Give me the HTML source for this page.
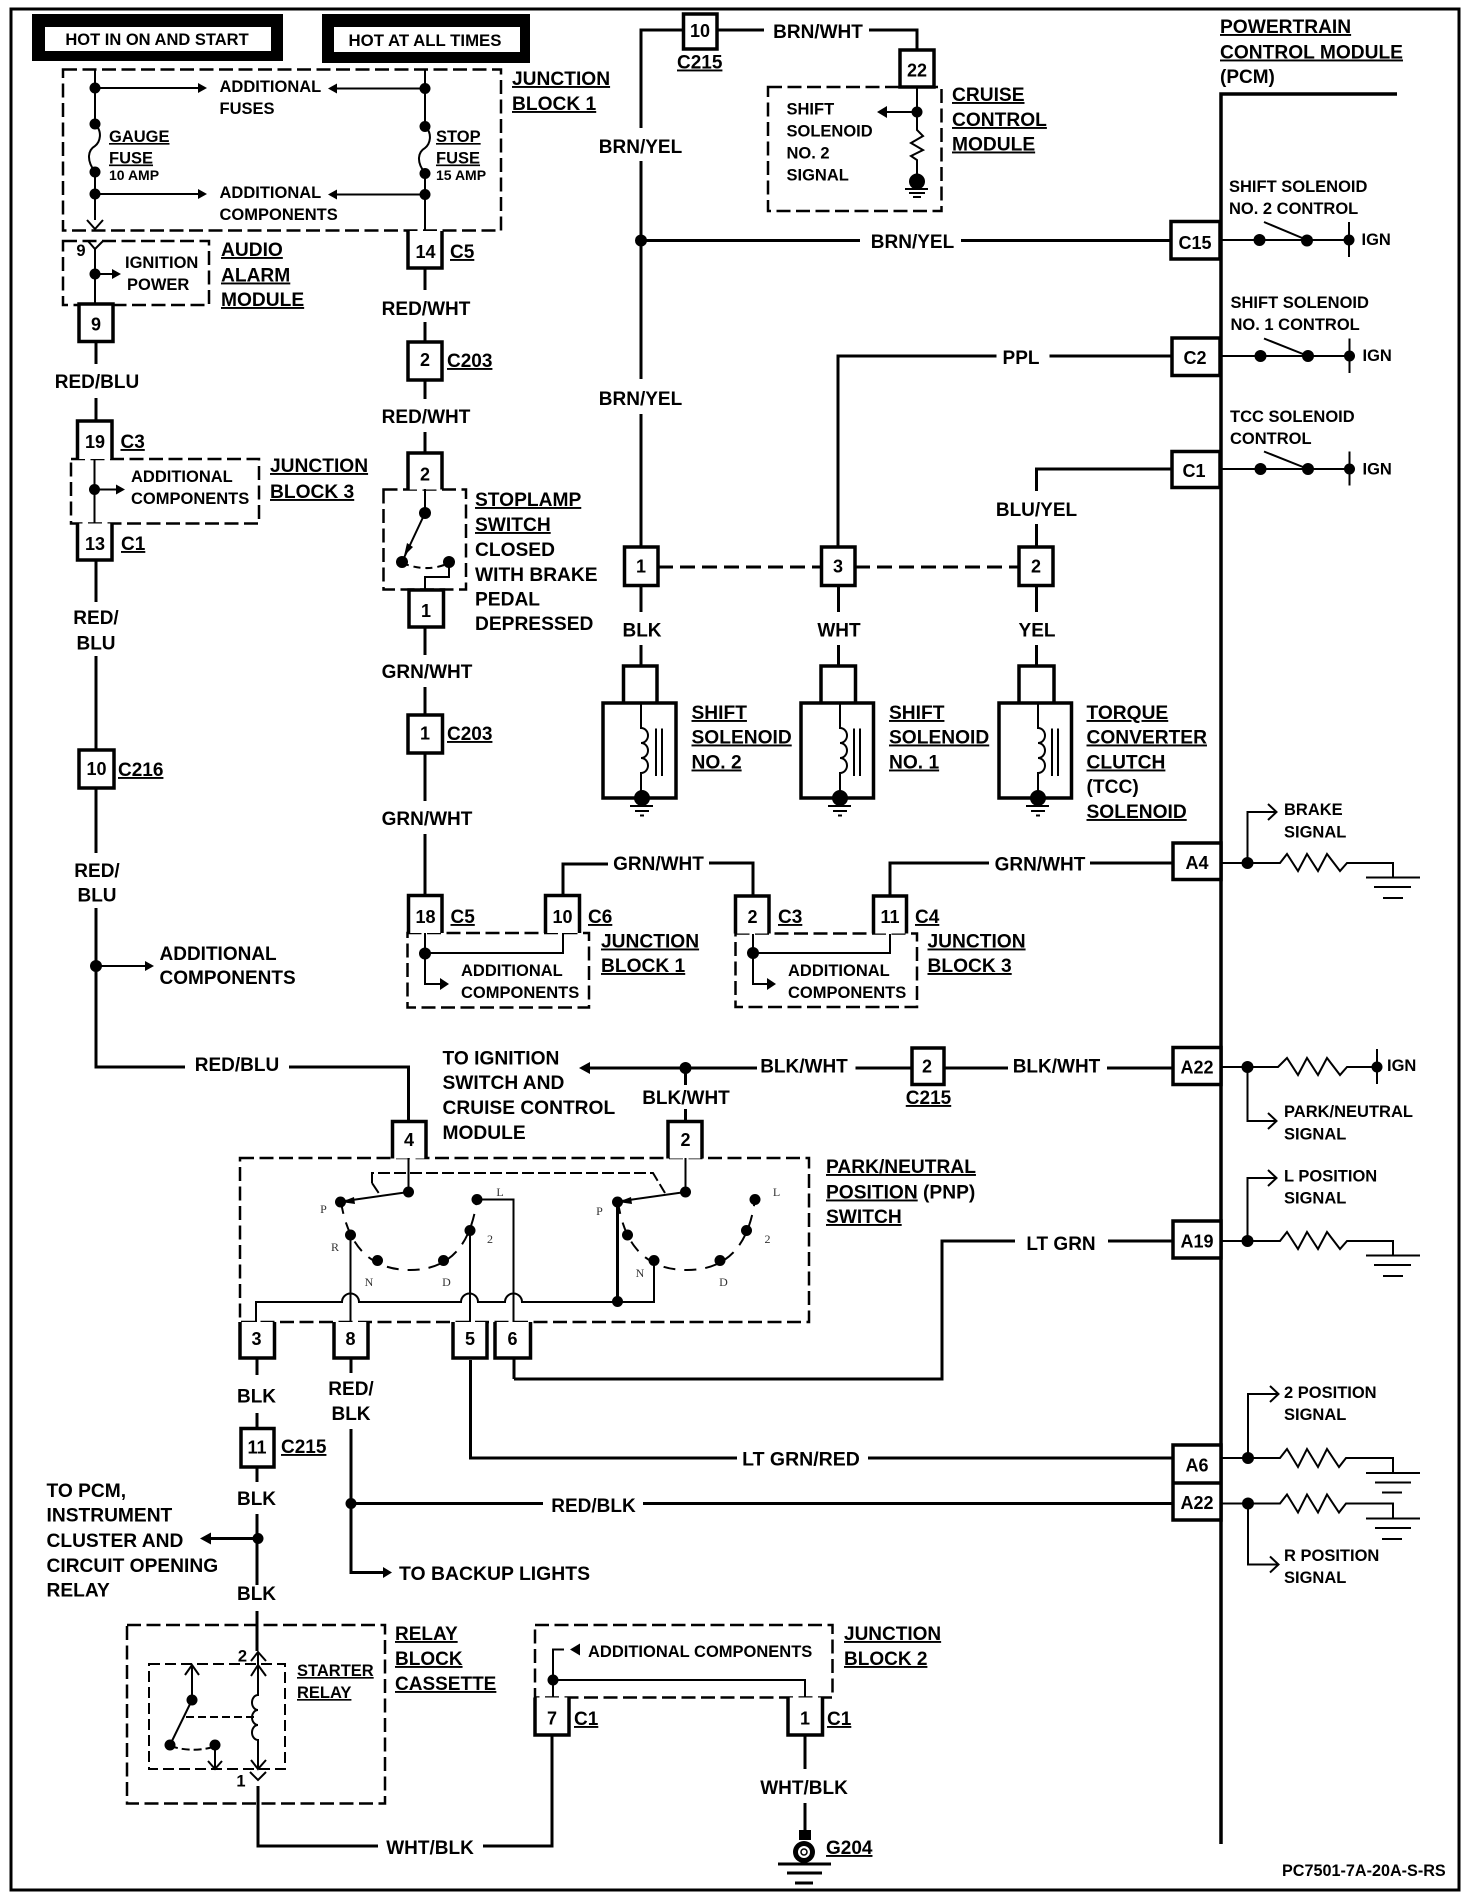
<!DOCTYPE html>
<html><head><meta charset="utf-8"><style>
html,body{margin:0;padding:0;background:#fff}
svg{display:block}
text{font-family:"Liberation Sans",sans-serif;font-weight:700;fill:#000}
.l{font-size:19.2px;text-decoration:underline}
.n{font-size:19.2px}
.w{font-size:19px;text-anchor:middle}
.s{font-size:16.5px}
.u{font-size:19px;text-decoration:underline}
.c{font-size:18px;text-anchor:middle}
.a{font-size:14px}
.z{font-family:"Liberation Serif",serif;font-weight:400;font-size:12px;text-anchor:middle;fill:#333}
.t{fill:none;stroke:#000;stroke-width:3}
.m{fill:none;stroke:#000;stroke-width:2}
.d{fill:none;stroke:#000;stroke-width:2.5;stroke-dasharray:14 5.5}
.e{fill:none;stroke:#000;stroke-width:2;stroke-dasharray:11 5}
.k{fill:#fff;stroke:#000;stroke-width:3.5}
circle,polygon{fill:#000}
</style></head><body>
<svg xmlns="http://www.w3.org/2000/svg" width="1472" height="1898" viewBox="0 0 1472 1898">
<rect width="1472" height="1898" fill="#fff"/>
<rect x="11" y="9" width="1448" height="1881" fill="none" stroke="#000" stroke-width="3"/>

<!-- header boxes -->
<rect x="32" y="14" width="251" height="47" fill="#000"/><rect x="45" y="27" width="226" height="24" fill="#fff"/>
<text x="157" y="45" class="s" text-anchor="middle">HOT IN ON AND START</text>
<rect x="322" y="14" width="208" height="49" fill="#000"/><rect x="334" y="27" width="186" height="25" fill="#fff"/>
<text x="425" y="46" class="s" text-anchor="middle" style="font-size:16.8px">HOT AT ALL TIMES</text>

<!-- dashed boxes -->
<rect x="63" y="69.5" width="438" height="161" class="d"/>
<rect x="63" y="241" width="146" height="64" class="d"/>
<rect x="71" y="459" width="188" height="64.5" class="d"/>
<rect x="383.5" y="489.5" width="82.5" height="100" class="d"/>
<rect x="768" y="87" width="173.5" height="124" class="d"/>
<rect x="407.5" y="933" width="181.5" height="74.5" class="d"/>
<rect x="735.5" y="933.5" width="181.5" height="73.5" class="d"/>
<rect x="240" y="1158" width="569" height="164" class="d"/>
<rect x="127" y="1625" width="258" height="178.5" class="d"/>
<rect x="535" y="1625" width="297.5" height="72.5" class="d"/>
<rect x="149" y="1664" width="136" height="105" class="e"/>

<!-- junction block 1 -->
<path class="m" d="M95 69V124M95 172V220M425 69V126M425 173V231"/>
<path class="m" d="M95 124C103 132 100 142 95 146C88 150 86 160 95 172"/>
<path class="m" d="M425 126C433 134 430 144 425 148C418 152 416 162 425 173"/>
<path class="m" d="M87 220L95 229L103 220"/>
<circle cx="95" cy="88" r="5.5"/><circle cx="95" cy="124" r="5.5"/><circle cx="95" cy="172" r="5.5"/><circle cx="95" cy="194" r="5.5"/>
<circle cx="425" cy="88.5" r="5.5"/><circle cx="425" cy="126.5" r="5.5"/><circle cx="425" cy="173.5" r="5.5"/><circle cx="425" cy="194.5" r="5.5"/>
<path class="m" d="M95 88H200M425 88.5H335M95 194H200M425 194.5H335"/>
<polygon points="207,88 198,83 198,93"/><polygon points="328,88.5 337,83.5 337,93.5"/><polygon points="207,194 198,189 198,199"/><polygon points="328,194.5 337,189.5 337,199.5"/>
<text x="219.5" y="92" class="s">ADDITIONAL</text><text x="219.5" y="114" class="s">FUSES</text>
<text x="219.5" y="198" class="s">ADDITIONAL</text><text x="219.5" y="220" class="s">COMPONENTS</text>
<text x="109" y="142" class="s" text-decoration="underline">GAUGE</text><text x="109" y="163.5" class="s" text-decoration="underline">FUSE</text><text x="109" y="180" class="a">10 AMP</text>
<text x="436" y="142" class="s" text-decoration="underline">STOP</text><text x="436" y="163.5" class="s" text-decoration="underline">FUSE</text><text x="436" y="180" class="a">15 AMP</text>
<text x="512" y="85" class="l">JUNCTION</text><text x="512" y="110" class="l">BLOCK 1</text>

<!-- audio alarm -->
<path class="m" d="M88 241L95 249L103 241M95 249V305M95 274H113"/>
<circle cx="95" cy="274" r="5.5"/><polygon points="121,274 112,269 112,279"/>
<text x="81" y="256" class="s" text-anchor="middle">9</text>
<text x="125" y="268" class="s">IGNITION</text><text x="127" y="290" class="s">POWER</text>
<text x="221" y="256" class="l">AUDIO</text><text x="221" y="281.5" class="l">ALARM</text><text x="221" y="306" class="l">MODULE</text>

<!-- left column -->
<path class="t" d="M96 341V364M96 398V421"/>
<path class="k" d="M79 304H113V341.5H79Z"/><text x="96" y="330.5" class="c">9</text>
<text x="97" y="388" class="w">RED/BLU</text>
<path class="k" d="M77.5 459V421H112V459"/><text x="95" y="448" class="c">19</text>
<text x="120.5" y="448" class="u">C3</text>
<path class="m" d="M94.5 459V523.5M94.5 489.5H117"/><circle cx="94.5" cy="489.5" r="5.5"/><polygon points="125,489.5 116,484.5 116,494.5"/>
<text x="131" y="482" class="s">ADDITIONAL</text><text x="131" y="504" class="s">COMPONENTS</text>
<text x="270" y="472" class="l">JUNCTION</text><text x="270" y="498" class="l">BLOCK 3</text>
<path class="k" d="M77.5 523.5V560H112V523.5"/><text x="95" y="550" class="c">13</text><text x="121" y="550" class="u">C1</text>
<path class="t" d="M96 560V602M96 656V750M96 788V853M96 908V1067H185M289 1067H408.5V1121"/>
<text x="96" y="624" class="w">RED/</text><text x="96" y="649.5" class="w">BLU</text>
<path class="k" d="M79 750H114V788H79Z"/><text x="96.5" y="775" class="c">10</text><text x="118" y="776" class="u">C216</text>
<text x="97" y="877" class="w">RED/</text><text x="97" y="901.5" class="w">BLU</text>
<circle cx="96" cy="966" r="6"/><path class="m" d="M96 966H146"/><polygon points="154,966 145,961 145,971"/>
<text x="159.5" y="960" class="n" style="font-size:19px">ADDITIONAL</text><text x="159.5" y="984" class="n" style="font-size:19px">COMPONENTS</text>
<text x="237" y="1071" class="w">RED/BLU</text>

<!-- center column -->
<path class="k" d="M408 231V268H442V231"/><text x="425.5" y="258" class="c">14</text><text x="450" y="258" class="u">C5</text>
<path class="t" d="M425 268V290M425 322V342M425 380V399M425 432V453M425 627V655M425 687V715M425 753V801M425 834V895"/>
<text x="426" y="315" class="w">RED/WHT</text>
<path class="k" d="M408 342H442V380H408Z"/><text x="425" y="366" class="c">2</text><text x="447" y="367" class="u">C203</text>
<text x="426" y="423" class="w">RED/WHT</text>
<path class="k" d="M408 489.5V453H442V489.5"/><text x="425" y="480.5" class="c">2</text>
<path class="m" d="M425 489V513L402 562"/><circle cx="425" cy="513" r="6"/><circle cx="402" cy="562" r="6"/><circle cx="449" cy="562" r="6"/>
<polygon points="404,556 407,543 413,547"/>
<path class="e" d="M402 563Q425 572 444 565" style="stroke-dasharray:7 5"/>
<path class="m" d="M449 562V577H425V590"/>
<path class="k" d="M409 590H443.5V627H409Z"/><text x="426" y="617" class="c">1</text>
<text x="475" y="506" class="l">STOPLAMP</text><text x="475" y="531" class="l">SWITCH</text><text x="475" y="556" class="n">CLOSED</text><text x="475" y="581" class="n">WITH BRAKE</text><text x="475" y="605.5" class="n">PEDAL</text><text x="475" y="630" class="n">DEPRESSED</text>
<text x="427" y="678" class="w">GRN/WHT</text>
<path class="k" d="M408 715H442.5V753H408Z"/><text x="425" y="739.5" class="c">1</text><text x="447" y="740" class="u">C203</text>
<text x="427" y="825" class="w">GRN/WHT</text>

<!-- JB1 lower -->
<path class="k" d="M408.5 933V895.5H442V933"/><text x="425.5" y="923" class="c">18</text><text x="450.5" y="923" class="u">C5</text>
<path class="k" d="M545.5 933V895.5H579.5V933"/><text x="562.5" y="923" class="c">10</text><text x="588" y="923" class="u">C6</text>
<path class="t" d="M563 895V864H608M709 863H753V896"/>
<text x="658.5" y="870" class="w">GRN/WHT</text>
<path class="m" d="M425 933V984H441M425 953H563V933"/><circle cx="425" cy="953.5" r="6"/><polygon points="449,984 440,978 440,990"/>
<text x="461" y="976" class="s">ADDITIONAL</text><text x="461" y="998" class="s">COMPONENTS</text>
<text x="601" y="947.5" class="l">JUNCTION</text><text x="601" y="972" class="l">BLOCK 1</text>

<!-- JB3 lower -->
<path class="k" d="M735.5 933.5V896H769V933.5"/><text x="752.5" y="923" class="c">2</text><text x="778" y="923" class="u">C3</text>
<path class="k" d="M873.5 933.5V896H906.5V933.5"/><text x="890" y="923" class="c">11</text><text x="915" y="923" class="u">C4</text>
<path class="t" d="M890 896V863H989M1090 863H1173"/>
<text x="1040" y="870.5" class="w">GRN/WHT</text>
<path class="m" d="M753 934V984H768M753 953H890V934"/><circle cx="753" cy="953" r="6"/><polygon points="776,984 767,978 767,990"/>
<text x="788" y="976" class="s">ADDITIONAL</text><text x="788" y="998" class="s">COMPONENTS</text>
<text x="927.5" y="947.5" class="l">JUNCTION</text><text x="927.5" y="972" class="l">BLOCK 3</text>

<!-- top center -->
<path class="t" d="M683 30H641V128M641 161V379M641 414V547M641 240.5H860M961 240.5H1171M717 30H764M869 30H917V50"/>
<circle cx="641" cy="240.5" r="6"/>
<path class="k" d="M683.5 14H717V49H683.5Z"/><text x="700" y="37" class="c">10</text>
<text x="677" y="68.5" class="u">C215</text>
<text x="818" y="38" class="w">BRN/WHT</text>
<text x="640.5" y="153" class="w">BRN/YEL</text><text x="640.5" y="405" class="w">BRN/YEL</text><text x="912.5" y="248" class="w">BRN/YEL</text>
<path class="k" d="M900 50H934V87H900Z"/><text x="917" y="76.5" class="c">22</text>
<path class="m" d="M917 87V130L923 136L911 143L923 150L911 156L917 160V176M917 112H885"/>
<circle cx="917" cy="112" r="5.5"/><polygon points="877,112 887,106 887,118"/><circle cx="917" cy="181.5" r="8"/>
<path class="m" d="M905 189H928M909 193H925M913 197H921"/>
<text x="786.5" y="114.5" class="s">SHIFT</text><text x="786.5" y="136.5" class="s">SOLENOID</text><text x="786.5" y="158.5" class="s">NO. 2</text><text x="786.5" y="180.5" class="s">SIGNAL</text>
<text x="952" y="101" class="l">CRUISE</text><text x="952" y="126" class="l">CONTROL</text><text x="952" y="150.5" class="l">MODULE</text>

<!-- PCM -->
<path d="M1397 94H1221V1844" fill="none" stroke="#000" stroke-width="3.5"/>
<text x="1220" y="33" class="u" style="font-size:19.2px">POWERTRAIN</text><text x="1220" y="58.5" class="u" style="font-size:19.2px">CONTROL MODULE</text><text x="1220" y="83" class="n" style="font-size:19px">(PCM)</text>

<!-- C15 -->
<path class="k" d="M1171 221.5H1220V259H1171Z"/><text x="1195" y="249" class="c">C15</text>
<text x="1229" y="192" class="s">SHIFT SOLENOID</text><text x="1229" y="214" class="s">NO. 2 CONTROL</text>
<path class="m" d="M1221 240H1349M1264 222L1307 240M1349 222V257"/>
<circle cx="1259.5" cy="240" r="6"/><circle cx="1307" cy="240.5" r="6"/><circle cx="1349" cy="240" r="5.5"/>
<text x="1361.5" y="245" class="s">IGN</text>

<!-- C2 -->
<path class="t" d="M1172 356H1049.5M996.5 356H838V547"/>
<text x="1021" y="364" class="w">PPL</text>
<path class="k" d="M1172 338H1220V375.5H1172Z"/><text x="1195" y="364" class="c">C2</text>
<text x="1230.5" y="308" class="s">SHIFT SOLENOID</text><text x="1230.5" y="330" class="s">NO. 1 CONTROL</text>
<path class="m" d="M1221 356H1350M1264 338.5L1308 356M1349.5 338.5V373"/>
<circle cx="1260.5" cy="356" r="6"/><circle cx="1308" cy="356" r="6"/><circle cx="1349.5" cy="356" r="5.5"/>
<text x="1362.5" y="361" class="s">IGN</text>

<!-- C1 -->
<path class="t" d="M1172 469H1036.5V491M1036.5 524V547"/>
<text x="1036.5" y="516" class="w">BLU/YEL</text>
<path class="k" d="M1172 451.5H1220V487.5H1172Z"/><text x="1194" y="477" class="c">C1</text>
<text x="1230" y="422" class="s">TCC SOLENOID</text><text x="1230" y="444" class="s">CONTROL</text>
<path class="m" d="M1221 469H1350M1264 451.5L1308 469M1349.5 451.5V485.5"/>
<circle cx="1260.5" cy="469" r="6"/><circle cx="1308" cy="469" r="6"/><circle cx="1349.5" cy="469" r="5.5"/>
<text x="1362.5" y="474.5" class="s">IGN</text>

<!-- solenoid connector row -->
<path class="t" d="M658 567H821M855 567H1019" style="stroke-dasharray:15 7"/>
<path class="t" d="M641 585V612M641 645V666M838.5 585V612M838.5 645V666M1036.5 585V612M1036.5 645V666"/>
<path class="k" d="M624.5 547H658V585.5H624.5Z"/><text x="641" y="572.5" class="c">1</text>
<path class="k" d="M821.5 547H855V585.5H821.5Z"/><text x="838" y="572.5" class="c">3</text>
<path class="k" d="M1019 547H1053V585.5H1019Z"/><text x="1036" y="572.5" class="c">2</text>
<text x="642" y="636.5" class="w">BLK</text><text x="839" y="636.5" class="w">WHT</text><text x="1037" y="636.5" class="w">YEL</text>

<!-- solenoids -->
<path class="k" d="M623.5 703V666H657V703M603 703H676V798H603Z"/>
<path class="m" d="M641 703V728a7 7.5 0 0 1 0 15a7 7.5 0 0 1 0 15a7 7.5 0 0 1 0 15V798M656 728.5V776M662 728.5V776"/>
<circle cx="642" cy="798" r="8"/><path class="m" d="M630 806H653M635 811H649M640 815.5H644"/>
<path class="k" d="M821 703V666H855.5V703M801 703H873.5V798H801Z"/>
<path class="m" d="M840 703V728a7 7.5 0 0 1 0 15a7 7.5 0 0 1 0 15a7 7.5 0 0 1 0 15V798M854 728.5V776M860 728.5V776"/>
<circle cx="840" cy="798" r="8"/><path class="m" d="M828 806H851M833 811H847M838 815.5H842"/>
<path class="k" d="M1019 703V666H1054V703M999 703H1071.5V798H999Z"/>
<path class="m" d="M1038 703V728a7 7.5 0 0 1 0 15a7 7.5 0 0 1 0 15a7 7.5 0 0 1 0 15V798M1052 728.5V776M1058 728.5V776"/>
<circle cx="1038" cy="798" r="8"/><path class="m" d="M1026 806H1049M1031 811H1045M1036 815.5H1040"/>
<text x="691.5" y="719" class="l">SHIFT</text><text x="691.5" y="743.5" class="l">SOLENOID</text><text x="691.5" y="768.5" class="l">NO. 2</text>
<text x="889" y="719" class="l">SHIFT</text><text x="889" y="743.5" class="l">SOLENOID</text><text x="889" y="768.5" class="l">NO. 1</text>
<text x="1086.5" y="719" class="l">TORQUE</text><text x="1086.5" y="743.5" class="l">CONVERTER</text><text x="1086.5" y="768.5" class="l">CLUTCH</text><text x="1086.5" y="793" class="n">(TCC)</text><text x="1086.5" y="818" class="l">SOLENOID</text>

<!-- A4 -->
<path class="k" d="M1173 843H1221V879.5H1173Z"/><text x="1197" y="869" class="c">A4</text>
<path class="m" d="M1221 863H1280L1287 854L1298 871L1307 854L1318 871L1327 854L1340 871L1347 863H1393V877.5M1366 877.5H1420M1374 887H1411M1383 898H1403M1247.5 863V812H1276"/>
<path class="m" d="M1268 804L1276.5 812L1268 820"/>
<circle cx="1247.5" cy="863" r="6"/>
<text x="1284" y="815" class="s">BRAKE</text><text x="1284" y="837.5" class="s">SIGNAL</text>

<!-- A22 top -->
<path class="t" d="M685.5 1068H586M757 1068H685.5M855.5 1068H912M944 1068H1008M1107 1068H1173"/>
<polygon points="579,1068 590,1062 590,1074"/><circle cx="685.5" cy="1068" r="6"/>
<text x="442.5" y="1064.5" class="n">TO IGNITION</text><text x="442.5" y="1089" class="n">SWITCH AND</text><text x="442.5" y="1114" class="n">CRUISE CONTROL</text><text x="442.5" y="1139" class="n">MODULE</text>
<text x="804" y="1072.5" class="w">BLK/WHT</text><text x="1056.5" y="1072.5" class="w">BLK/WHT</text><text x="686" y="1104" class="w">BLK/WHT</text>
<path class="t" d="M685.5 1068V1085M685.5 1109V1121"/>
<path class="k" d="M912 1048H944V1084.5H912Z"/><text x="927" y="1072.5" class="c">2</text>
<text x="928.5" y="1104" class="u" text-anchor="middle">C215</text>
<path class="k" d="M1173 1047.5H1221V1084.5H1173Z"/><text x="1197" y="1073.5" class="c">A22</text>
<path class="m" d="M1221 1067H1278L1287 1058L1298 1075L1307 1058L1318 1075L1327 1058L1340 1075L1347 1067H1377M1377 1049V1084M1247.5 1067V1121H1276"/>
<path class="m" d="M1268 1113L1276.5 1121L1268 1129"/>
<circle cx="1247.5" cy="1067" r="6"/><circle cx="1377" cy="1067" r="5.5"/>
<text x="1387" y="1071" class="s">IGN</text>
<text x="1284" y="1117" class="s">PARK/NEUTRAL</text><text x="1284" y="1139.5" class="s">SIGNAL</text>

<!-- A19 -->
<path class="t" d="M1173 1241H1108M1015 1241H942V1379H514"/>
<text x="1061" y="1250" class="w">LT GRN</text>
<path class="k" d="M1173 1221H1221V1258H1173Z"/><text x="1197" y="1247.5" class="c">A19</text>
<path class="m" d="M1221 1241H1280L1287 1232L1298 1249L1307 1232L1318 1249L1327 1232L1340 1249L1347 1241H1393V1255.5M1366 1255.5H1420M1374 1265H1411M1383 1276H1403M1247.5 1241V1178H1276"/>
<path class="m" d="M1268 1170L1276.5 1178L1268 1186"/>
<circle cx="1247.5" cy="1241" r="6"/>
<text x="1284" y="1181.5" class="s">L POSITION</text><text x="1284" y="1203.5" class="s">SIGNAL</text>

<!-- A6 / A22 -->
<path class="t" d="M1173 1458H868M737 1458H470.5V1360M1173 1503.5H643M543 1503.5H351V1572.5H384M351 1429V1503.5"/>
<text x="801" y="1465.5" class="w" style="font-size:19.5px">LT GRN/RED</text><text x="593.5" y="1512" class="w">RED/BLK</text>
<circle cx="351" cy="1503.5" r="5.5"/><polygon points="392,1572.5 383,1567 383,1578"/>
<text x="399" y="1580" class="w" style="text-anchor:start;font-size:19.4px">TO BACKUP LIGHTS</text>
<path class="k" d="M1173 1445H1221V1520H1173ZM1173 1483H1221"/>
<text x="1197" y="1471.5" class="c">A6</text><text x="1197" y="1509" class="c">A22</text>
<path class="m" d="M1221 1458H1280L1287 1449L1298 1467L1307 1449L1318 1467L1327 1449L1339 1467L1346 1458H1393V1473M1366 1473H1420M1375 1482.5H1411M1382 1492.5H1402"/>
<path class="m" d="M1221 1503.5H1280L1287 1494.5L1298 1512.5L1307 1494.5L1318 1512.5L1327 1494.5L1339 1512.5L1346 1503.5H1393V1518.5M1366 1518.5H1420M1375 1528H1411M1382 1539H1402"/>
<path class="m" d="M1248 1458V1394H1278M1248 1503.5V1564.5H1278"/>
<path class="m" d="M1270 1386L1278.5 1394L1270 1402M1270 1556.5L1278.5 1564.5L1270 1572.5"/>
<circle cx="1248" cy="1458" r="6"/><circle cx="1248" cy="1503.5" r="6"/>
<text x="1284" y="1398" class="s">2 POSITION</text><text x="1284" y="1420" class="s">SIGNAL</text>
<text x="1284" y="1561" class="s">R POSITION</text><text x="1284" y="1583" class="s">SIGNAL</text>

<!-- PNP switch -->
<path class="k" d="M392.5 1158.5V1121.5H426V1158.5"/><text x="409" y="1146" class="c">4</text>
<path class="k" d="M668 1158.5V1121.5H702V1158.5"/><text x="685.5" y="1146" class="c">2</text>
<path class="m" d="M408.5 1158V1192L345 1201M685.5 1158V1192L622 1201"/>
<polygon points="341,1202 354,1197 355,1204"/><polygon points="618,1202 631,1197 632,1204"/>
<path class="e" d="M372 1183V1173H653L665 1193M372 1183L380 1195" style="stroke-dasharray:12 4"/>
<path d="M341 1202Q352 1270 410 1270T477 1199" fill="none" stroke="#000" stroke-width="2" stroke-dasharray="12 9"/>
<path d="M618 1202Q628 1270 687 1270T755 1199" fill="none" stroke="#000" stroke-width="2" stroke-dasharray="12 9"/>
<circle cx="408.5" cy="1192" r="5.5"/><circle cx="340.5" cy="1202" r="5.5"/><circle cx="350.5" cy="1235" r="5.5"/><circle cx="377.5" cy="1260.5" r="5.5"/><circle cx="443.5" cy="1260.5" r="5.5"/><circle cx="470" cy="1230.5" r="5.5"/><circle cx="477" cy="1199.5" r="5.5"/>
<circle cx="685.5" cy="1192" r="5.5"/><circle cx="617.5" cy="1202" r="5.5"/><circle cx="627.5" cy="1235" r="5.5"/><circle cx="654" cy="1260.5" r="5.5"/><circle cx="720" cy="1260.5" r="5.5"/><circle cx="746.5" cy="1230.5" r="5.5"/><circle cx="755" cy="1199.5" r="5.5"/>
<path class="m" d="M477 1199.5H513.5V1322M350.5 1235V1322M470 1230.5V1322"/>
<path d="M617.5 1202V1301" fill="none" stroke="#000" stroke-width="3"/>
<path class="m" d="M256 1322V1302H342a8.5 8.5 0 0 1 17 0H461a8.5 8.5 0 0 1 17 0H505a8.5 8.5 0 0 1 17 0H654V1260.5"/>
<circle cx="617.5" cy="1301.5" r="5.5"/>
<text x="323.5" y="1213" class="z">P</text><text x="335" y="1251" class="z">R</text><text x="369" y="1286" class="z">N</text><text x="446.5" y="1286" class="z">D</text><text x="490" y="1243" class="z">2</text><text x="500" y="1196" class="z">L</text>
<text x="599.5" y="1215" class="z">P</text><text x="640" y="1277" class="z">N</text><text x="723.5" y="1286" class="z">D</text><text x="767.5" y="1243" class="z">2</text><text x="776.5" y="1196" class="z">L</text>
<text x="826" y="1173" class="l">PARK/NEUTRAL</text><text x="826" y="1198.5"><tspan class="l">POSITION</tspan><tspan class="n"> (PNP)</tspan></text><text x="826" y="1223" class="l">SWITCH</text>
<path class="k" d="M240 1322V1358H274.5V1322"/><text x="256.5" y="1345" class="c">3</text>
<path class="k" d="M334 1322V1358H368V1322"/><text x="350.5" y="1345" class="c">8</text>
<path class="k" d="M453 1322V1358H487V1322"/><text x="470" y="1345" class="c">5</text>
<path class="k" d="M495 1322V1358H530.5V1322"/><text x="512.5" y="1345" class="c">6</text>
<path class="m" d="M350.5 1322V1300M470 1322V1300M513.5 1322V1300"/>
<path class="t" d="M514 1358V1379M351 1358V1373"/>
<text x="351" y="1395" class="w">RED/</text><text x="351" y="1420" class="w">BLK</text>

<!-- bottom left -->
<path class="t" d="M257 1358V1375M257 1413V1428M257 1467V1482M257 1514V1585M257 1611V1651M258 1786V1846H378M483 1846H552V1735"/>
<text x="256.5" y="1402.5" class="w">BLK</text>
<path class="k" d="M241 1428.5H274V1467H241Z"/><text x="257" y="1453.5" class="c">11</text>
<text x="281" y="1453" class="u">C215</text>
<text x="256.5" y="1505" class="w">BLK</text>
<circle cx="258" cy="1538.5" r="5.5"/><path class="t" d="M258 1538.5H208"/><polygon points="200,1538.5 211,1532.5 211,1544.5"/>
<text x="256.5" y="1600" class="w">BLK</text>
<text x="46.5" y="1497" class="n">TO PCM,</text><text x="46.5" y="1521.5" class="n">INSTRUMENT</text><text x="46.5" y="1547" class="n">CLUSTER AND</text><text x="46.5" y="1572" class="n">CIRCUIT OPENING</text><text x="46.5" y="1596.5" class="n">RELAY</text>

<!-- relay -->
<g transform="translate(0,-2)">
<path class="m" d="M251 1663L258 1654L266 1663M258 1654V1697a6 7.5 0 0 0 0 15a6 7.5 0 0 0 0 15a6 7.5 0 0 0 0 15V1771M251 1678L258 1667L266 1678M251 1762L258 1771L266 1762M250 1774L258 1782L266 1774"/>
<text x="242.5" y="1663.5" class="s" text-anchor="middle">2</text><text x="241" y="1788.5" class="s" text-anchor="middle">1</text>
<path class="m" d="M192 1667V1702L170 1747M185 1677L192 1667L199 1677M215 1747V1771M208 1763L215 1771L222 1763"/>
<path class="e" d="M186 1719H258M170 1748Q192 1755 213 1749" style="stroke-dasharray:8 4"/>
<circle cx="192" cy="1702" r="5.5"/><circle cx="170" cy="1747" r="5.5"/><circle cx="215" cy="1747" r="5.5"/>
<text x="297" y="1678" class="s" text-decoration="underline">STARTER</text><text x="297" y="1700" class="s" text-decoration="underline">RELAY</text>
<text x="395" y="1642" class="u">RELAY</text><text x="395" y="1667" class="u">BLOCK</text><text x="395" y="1692" class="u">CASSETTE</text>
<text x="430" y="1856" class="w">WHT/BLK</text>

<!-- JB2 -->
<path class="m" d="M553 1700V1651.5H564M553 1682H805V1700"/>
<polygon points="570,1651.5 580,1645.5 580,1657.5" transform="rotate(0)"/>
<circle cx="553" cy="1682" r="5.5"/>
<text x="588" y="1659" class="s">ADDITIONAL COMPONENTS</text>
<text x="844" y="1642" class="u">JUNCTION</text><text x="844" y="1667" class="u">BLOCK 2</text>
<path class="k" d="M535 1699.5V1737H569V1699.5"/><text x="552" y="1726.5" class="c">7</text><text x="574" y="1727" class="u">C1</text>
<path class="k" d="M788 1699.5V1737H822.5V1699.5"/><text x="805" y="1726.5" class="c">1</text><text x="827" y="1727" class="u">C1</text>
<path class="t" d="M805 1737V1771M805 1805V1832"/>
<text x="804" y="1796" class="w">WHT/BLK</text>
<rect x="799" y="1832" width="12" height="10" fill="#000"/>
<circle cx="804" cy="1854" r="11"/><circle cx="804" cy="1854" r="6" style="fill:#fff"/><circle cx="804" cy="1854" r="3" style="fill:none;stroke:#000;stroke-width:1.5"/>
<path class="t" d="M778 1866H831M787 1875H822M795 1885H813"/>
<text x="826" y="1856" class="u">G204</text>
</g>

<text x="1282" y="1876" class="s" style="font-size:16.2px">PC7501-7A-20A-S-RS</text>
</svg>
</body></html>
